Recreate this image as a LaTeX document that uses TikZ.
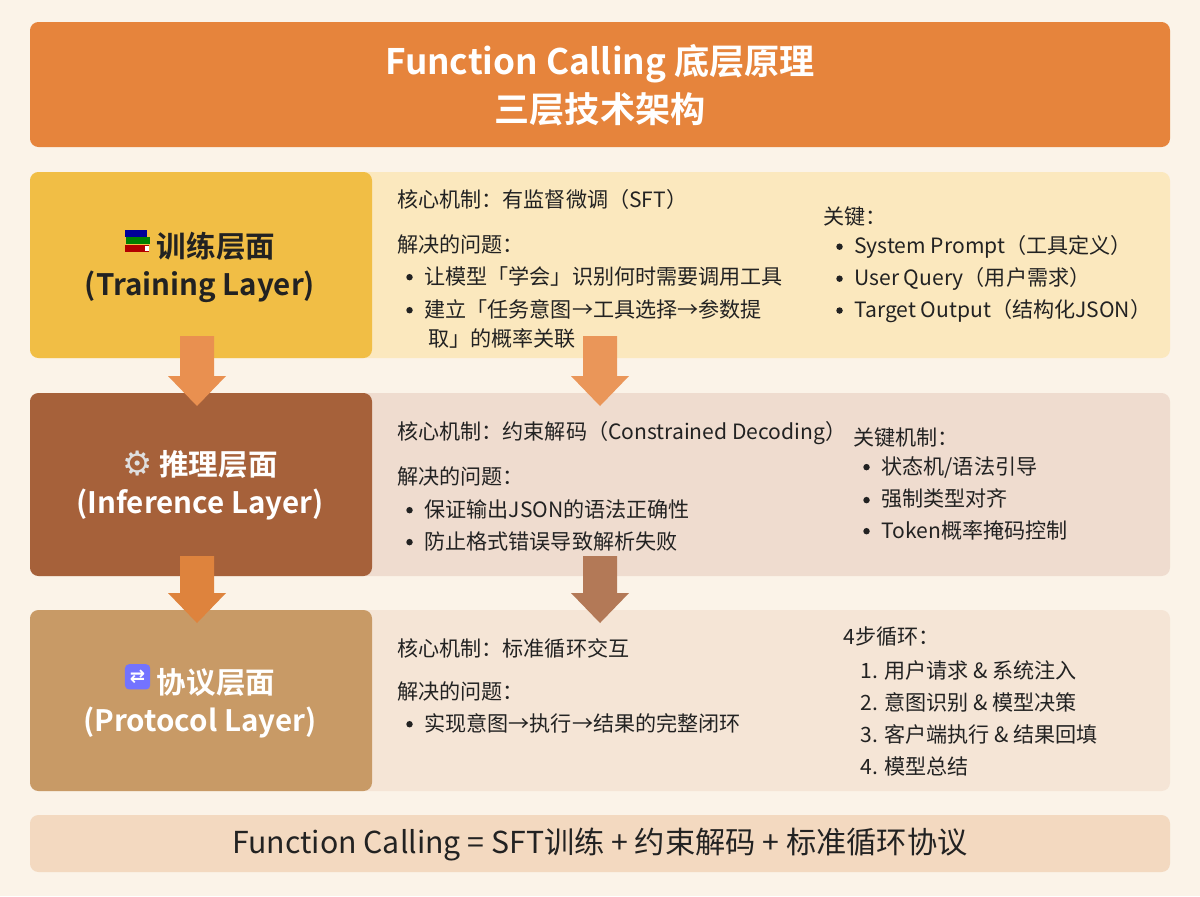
\documentclass[tikz,border=0pt]{standalone}
\usepackage{fontspec}
\setmainfont{Noto Sans CJK SC}[BoldFont=Noto Sans CJK SC Bold]
\newfontfamily\symfont{DejaVu Sans}
\usetikzlibrary{positioning}
\definecolor{bgcream}{HTML}{FBF3E8}
\definecolor{titleor}{HTML}{E6843C}
\definecolor{trainL}{HTML}{F1BE45}
\definecolor{trainR}{HTML}{FBE8BE}
\definecolor{inferL}{HTML}{A6613A}
\definecolor{inferR}{HTML}{EFDCCF}
\definecolor{protoL}{HTML}{C89A66}
\definecolor{protoR}{HTML}{F5E5D6}
\definecolor{sumbar}{HTML}{F3D9C0}
\definecolor{txt}{HTML}{222222}
\newcommand{\bdot}{\tikz[baseline=-0.6ex]\fill[txt] (0,0) circle (2.3pt);\hspace{0.55em}}
\newcommand{\bookicon}{\tikz[baseline=-0.5ex,x=1pt,y=1pt]{%
  \fill[red!70!black] (0,-2) rectangle (17,3);
  \fill[green!50!black] (1,3.5) rectangle (18,8.5);
  \fill[blue!60!black] (0,9) rectangle (16,14);
  \fill[white] (14,-1) rectangle (17,2);}}
\newcommand{\loopicon}{\tikz[baseline=-0.5ex,x=1pt,y=1pt]{%
  \fill[blue!55, rounded corners=3pt] (0,-3) rectangle (18,15);
  \node[text=white, font=\symfont\fontsize{13}{13}\selectfont, inner sep=0pt] at (9,6) {⇄};}}
\begin{document}
\begin{tikzpicture}[x=0.025cm,y=-0.025cm]
    % Styles
    \tikzset{
      lbox/.style={rounded corners=6pt},
      body/.style={anchor=west, inner sep=0pt, text=txt, font=\fontsize{15}{17}\selectfont},
      bul/.style={body},
      ltitle/.style={align=center, font=\bfseries\fontsize{21}{27}\selectfont},
    }
    % block arrow pointing down, centred at x, from y1 to y2
    \newcommand{\blockdown}[4]{%
      \fill[#4] (#1-17,#2) -- (#1+17,#2) -- (#1+17,#3-30) -- (#1+29,#3-30)
        -- (#1,#3) -- (#1-29,#3-30) -- (#1-17,#3-30) -- cycle;}
    % Background
    \fill[bgcream] (0,0) rectangle (1200,896);
    % Title
    \fill[titleor, lbox] (30,22) rectangle (1170,147);
    \node[align=center, text=white, font=\bfseries\fontsize{25}{34}\selectfont] (title) at (600,85)
      {Function Calling 底层原理\\三层技术架构};

    % Training layer
    \fill[trainR, lbox] (30,172) rectangle (1170,358);
    \fill[trainL, lbox] (30,172) rectangle (372,358);
    \node[ltitle, text=txt] (train) at (200,266)
      {\bookicon~训练层面\\(Training Layer)};
    \node[body] (t1) at (397,199) {核心机制：有监督微调（SFT）};
    \node[body] (t2) at (397,244) {解决的问题：};
    \node[bul] (t3) at (406,276) {\bdot 让模型「学会」识别何时需要调用工具};
    \node[bul] (t4) at (406,309) {\bdot 建立「任务意图→工具选择→参数提};
    \node[bul] (t5) at (428,338) {取」的概率关联};
    \node[body] (k1) at (823,216) {关键：};
    \node[bul] (k2) at (836,247) {\bdot System Prompt（工具定义）};
    \node[bul] (k3) at (836,279) {\bdot User Query（用户需求）};
    \node[bul] (k4) at (836,311) {\bdot Target Output（结构化JSON）};

    % Inference layer
    \fill[inferR, lbox] (30,393) rectangle (1170,576);
    \fill[inferL, lbox] (30,393) rectangle (372,576);
    \node[ltitle, text=white] (infer) at (200,485)
      {{\symfont\fontsize{24}{24}\selectfont\color{gray!25}⚙}~推理层面\\(Inference Layer)};
    \node[body] (i1) at (397,433) {核心机制：约束解码（Constrained Decoding）};
    \node[body] (i2) at (397,476) {解决的问题：};
    \node[bul] (i3) at (406,509) {\bdot 保证输出JSON的语法正确性};
    \node[bul] (i4) at (406,541) {\bdot 防止格式错误导致解析失败};
    \node[body] (m1) at (853,437) {关键机制：};
    \node[bul] (m2) at (863,467) {\bdot 状态机/语法引导};
    \node[bul] (m3) at (863,499) {\bdot 强制类型对齐};
    \node[bul] (m4) at (863,530) {\bdot Token概率掩码控制};

    % Protocol layer
    \fill[protoR, lbox] (30,610) rectangle (1170,791);
    \fill[protoL, lbox] (30,610) rectangle (372,791);
    \node[ltitle, text=white] (proto) at (200,701)
      {\loopicon~协议层面\\(Protocol Layer)};
    \node[body] (p1) at (397,648) {核心机制：标准循环交互};
    \node[body] (p2) at (397,691) {解决的问题：};
    \node[bul] (p3) at (406,723) {\bdot 实现意图→执行→结果的完整闭环};
    \node[body] (s0) at (843,637) {4步循环：};
    \node[bul] (s1) at (860,670) {1. 用户请求 \& 系统注入};
    \node[bul] (s2) at (860,702) {2. 意图识别 \& 模型决策};
    \node[bul] (s3) at (860,734) {3. 客户端执行 \& 结果回填};
    \node[bul] (s4) at (860,766) {4. 模型总结};

    % Down arrows
    \blockdown{197}{336}{406}{titleor!90}
    \blockdown{600}{336}{406}{titleor!85}
    \blockdown{197}{556}{623}{titleor!80!brown}
    \blockdown{600}{556}{623}{inferL!85}

    % Summary bar
    \fill[sumbar, lbox] (30,815) rectangle (1170,872);
    \node[text=txt, font=\fontsize{21.5}{26}\selectfont] (sum) at (600,844)
      {Function Calling = SFT训练 + 约束解码 + 标准循环协议};
\end{tikzpicture}
\end{document}
